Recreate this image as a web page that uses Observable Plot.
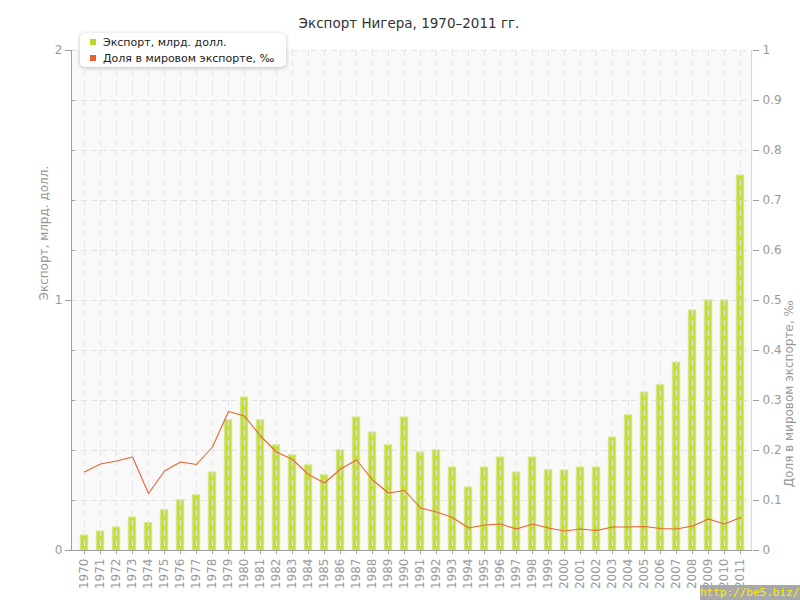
<!DOCTYPE html>
<html><head><meta charset="utf-8">
<script src="https://cdn.jsdelivr.net/npm/d3@7"></script>
<script src="https://cdn.jsdelivr.net/npm/@observablehq/plot@0.6"></script>
<style>
body{margin:0;background:#fff;}
#wrap{position:relative;width:800px;height:600px;overflow:hidden;font-family:"DejaVu Sans",sans-serif;}
#legend{position:absolute;left:80px;top:33px;width:206px;height:34px;background:#fff;border-radius:5px;box-shadow:0 1px 4px rgba(0,0,0,0.25);font-size:11px;color:#222;}
#legend .row{position:absolute;left:10px;height:14px;line-height:14px;white-space:nowrap;}
#legend .sw{display:inline-block;width:6px;height:6px;margin-right:7px;vertical-align:1px;}
#wm{position:absolute;left:700px;top:585px;width:100px;height:15px;background:#a8a8a8;color:#ffee00;font-family:"DejaVu Sans Mono",monospace;font-size:11px;line-height:15px;text-align:left;white-space:nowrap;}
</style></head>
<body><div id="wrap"></div>
<script>
const years = [1970,1971,1972,1973,1974,1975,1976,1977,1978,1979,1980,1981,1982,1983,1984,1985,1986,1987,1988,1989,1990,1991,1992,1993,1994,1995,1996,1997,1998,1999,2000,2001,2002,2003,2004,2005,2006,2007,2008,2009,2010,2011];
const exportVals = [0.06,0.076,0.092,0.132,0.11,0.161,0.201,0.221,0.312,0.521,0.612,0.521,0.421,0.381,0.341,0.301,0.401,0.532,0.472,0.421,0.532,0.392,0.401,0.332,0.252,0.332,0.372,0.312,0.372,0.321,0.32,0.332,0.332,0.452,0.541,0.632,0.661,0.752,0.96,1.0,1.0,1.5];
const shareVals = [0.157,0.173,0.179,0.187,0.114,0.159,0.177,0.172,0.207,0.278,0.269,0.229,0.197,0.182,0.152,0.135,0.163,0.181,0.141,0.115,0.12,0.085,0.077,0.066,0.045,0.051,0.053,0.043,0.053,0.045,0.039,0.043,0.04,0.047,0.047,0.048,0.044,0.043,0.049,0.063,0.053,0.066];
const leftTicks = [0,1,2];
const minorTicks = [0.2,0.4,0.6,0.8,1.2,1.4,1.6,1.8];
const rightTicks = [0,0.2,0.4,0.6,0.8,1,1.2,1.4,1.6,1.8,2];
const title = "Экспорт Нигера, 1970–2011 гг.";
const leftLabel = "Экспорт, млрд. долл.";
const rightLabel = "Доля в мировом экспорте, ‰";
const legendItems = [{name:"Экспорт, млрд. долл.", color:"#b5d82c"},{name:"Доля в мировом экспорте, ‰", color:"#e8642f"}];
const watermark = "http://be5.biz/";

const data = years.map((y,i)=>({year:String(y), exp:exportVals[i], share:shareVals[i]}));
const ratio = 2; // right axis 0..1 maps to left 0..2

const axisLines = (index, scales, values, dim) => {
  const g = document.createElementNS("http://www.w3.org/2000/svg","g");
  const L = dim.marginLeft, R = dim.width - dim.marginRight, T = dim.marginTop, B = dim.height - dim.marginBottom;
  const add = (x1,y1,x2,y2,c)=>{const l=document.createElementNS("http://www.w3.org/2000/svg","line");
    l.setAttribute("x1",x1);l.setAttribute("y1",y1);l.setAttribute("x2",x2);l.setAttribute("y2",y2);
    l.setAttribute("stroke",c);l.setAttribute("stroke-width",1);g.appendChild(l);};
  add(L+0.5,T,L+0.5,B,"#a0a0a0");
  add(R-0.5,T,R-0.5,B,"#d8d8d8");
  add(L,B+0.5,R,B+0.5,"#a0a0a0");
  return g;
};

const plot = Plot.plot({
  width:800, height:600,
  marginLeft:71, marginRight:48, marginTop:50, marginBottom:50,
  style:{fontFamily:"DejaVu Sans, sans-serif", fontSize:"11px", color:"#999", background:"transparent"},
  x:{type:"band", domain:years.map(String), padding:0, label:null},
  y:{domain:[0,2], label:null},
  marks:[
    Plot.frame({fill:"#f9f9f9", stroke:null}),
    Plot.ruleY(rightTicks.filter(d=>d>0), {stroke:"#e2e2e2", strokeDasharray:"6,4"}),
    Plot.barY(data, {x:"year", y:"exp", fill:"#c3de3e", stroke:"#d5ea80", strokeWidth:1, insetLeft:4.3, insetRight:4.3}),
    Plot.ruleX(data, {x:"year", stroke:"#e4e4e4", strokeDasharray:"6,4"}),
    Plot.line(data, {x:"year", y:d=>d.share*ratio, stroke:"#e8642f", strokeWidth:1.1}),
    axisLines,
    Plot.axisY({anchor:"left", ticks:leftTicks, tickSize:6, tickPadding:3, label:null, tickFormat:d=>String(d), stroke:"#a0a0a0", fontSize:12}),
    Plot.axisY({anchor:"left", ticks:minorTicks, tickSize:-4, label:null, tickFormat:()=>"", stroke:"#a0a0a0"}),
    Plot.axisY({anchor:"right", ticks:rightTicks, tickSize:6, tickPadding:4, label:null, tickFormat:d=>String(Math.round(d/ratio*10)/10), stroke:"#a0a0a0", fontSize:12}),
    Plot.axisX({anchor:"bottom", tickSize:4, tickPadding:4, tickRotate:-90, label:null, stroke:"#a0a0a0", fontSize:12}),
    Plot.text([leftLabel], {frameAnchor:"left", dx:-27, rotate:-90, fill:"#999", fontSize:12}),
    Plot.text([rightLabel], {frameAnchor:"right", dx:37, rotate:-90, fill:"#999", fontSize:12}),
    Plot.text([title], {frameAnchor:"top", dx:-3, dy:-32, fill:"#333", fontSize:13.5})
  ]
});
const wrap = document.getElementById("wrap");
wrap.appendChild(plot);
const lg = document.createElement("div"); lg.id="legend";
legendItems.forEach((it,i)=>{
  const r=document.createElement("div"); r.className="row"; r.style.top=(3+i*16)+"px";
  r.innerHTML=`<span class="sw" style="background:${it.color}"></span>${it.name}`;
  lg.appendChild(r);
});
wrap.appendChild(lg);
const wm=document.createElement("div"); wm.id="wm"; wm.textContent=watermark; wrap.appendChild(wm);
</script></body></html>
